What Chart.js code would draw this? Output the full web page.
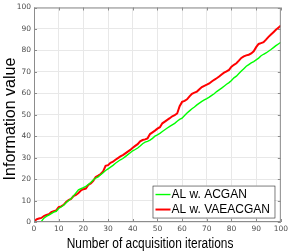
<!DOCTYPE html>
<html>
<head>
<meta charset="utf-8">
<script src="https://cdn.jsdelivr.net/npm/chart.js@4.4.1/dist/chart.umd.min.js"></script>
<style>
  html, body { margin: 0; padding: 0; background: #fff; }
  #wrap { width: 291px; height: 252px; }
</style>
</head>
<body>
<div id="wrap"><canvas id="chart" width="291" height="252"></canvas></div>
<script>
// iterations 0..100
const iterations = Array.from({ length: 101 }, (_, i) => i);

const acgan = [
  0, 0, 0, 0.3, 1.8, 2.6, 3.2, 3.9, 4.6, 5.0,
  6.3, 7.0, 7.8, 9.0, 10.0, 10.8, 12.2, 13.6, 15.0, 15.5,
  16.0, 16.6, 17.5, 18.4, 19.6, 20.5, 21.0, 22.0, 23.0, 24.0,
  24.8, 25.6, 26.4, 27.4, 28.2, 29.0, 29.6, 30.5, 31.4, 32.3,
  33.2, 33.8, 34.5, 35.4, 36.5, 37.2, 37.6, 38.2, 39.0, 40.0,
  40.6, 41.3, 42.2, 43.0, 43.8, 44.6, 45.3, 46.0, 47.0, 47.8,
  48.4, 49.6, 50.8, 51.8, 52.8, 53.6, 54.6, 55.4, 56.2, 56.9,
  57.5, 58.2, 59.0, 59.8, 60.8, 61.6, 62.4, 63.3, 64.2, 65.0,
  66.0, 67.2, 68.0, 69.2, 70.4, 71.5, 72.6, 73.4, 74.2, 74.8,
  75.6, 76.4, 77.5, 78.2, 78.8, 79.6, 80.4, 81.3, 82.2, 83.0,
  83.8
];

const vaeacgan = [
  0, 1.2, 1.6, 1.9, 2.8, 3.3, 3.6, 4.6, 5.0, 5.4,
  6.9, 7.3, 8.0, 9.3, 10.2, 10.8, 12.1, 12.6, 13.5, 14.7,
  15.3, 15.6, 17.3, 18.0, 19.2, 21.0, 21.6, 22.4, 23.6, 26.2,
  26.5, 27.6, 28.1, 29.0, 29.8, 30.6, 31.2, 32.0, 32.8, 33.6,
  34.6, 35.5, 36.3, 37.6, 38.2, 38.5, 39.0, 41.0, 41.8, 42.6,
  43.5, 44.2, 46.0, 46.8, 47.6, 48.4, 49.3, 49.8, 50.6, 54.0,
  56.0, 56.5, 57.2, 58.6, 59.8, 60.3, 60.8, 61.9, 62.9, 63.5,
  64.0, 64.6, 65.5, 66.3, 67.0, 67.8, 68.8, 69.6, 70.2, 70.9,
  72.4, 73.3, 74.0, 75.2, 76.5, 77.2, 77.7, 78.0, 78.6, 79.6,
  81.5, 83.0, 83.4, 83.8, 85.0, 86.3, 87.4, 88.5, 89.6, 90.6,
  91.6
];

const seriesLabels = ['AL w. ACGAN', 'AL w. VAEACGAN'];
const seriesColors = ['#00ff00', '#ff0000'];
const xTicks = [0, 10, 20, 30, 40, 50, 60, 70, 80, 90, 100];
const yTicks = [0, 10, 20, 30, 40, 50, 60, 70, 80, 90, 100];
const xTitle = 'Number of acquisition iterations';
const yTitle = 'Information value';

const toPoints = (ys) => ys.map((y, i) => ({ x: iterations[i], y }));

// matlab-ish box, inward ticks, axis titles and legend inside the axes
const matlabBox = {
  id: 'matlabBox',
  afterDraw(chart) {
    const { ctx, chartArea: a, scales } = chart;
    ctx.save();
    ctx.strokeStyle = '#8c8c8c';
    ctx.lineWidth = 1;
    ctx.strokeRect(a.left + 0.5, a.top + 0.5, a.right - a.left - 1, a.bottom - a.top - 1);
    ctx.beginPath();
    xTicks.forEach(v => {
      const px = Math.round(scales.x.getPixelForValue(v)) + 0.5;
      ctx.moveTo(px, a.bottom); ctx.lineTo(px, a.bottom - 3);
      ctx.moveTo(px, a.top); ctx.lineTo(px, a.top + 3);
    });
    yTicks.forEach(v => {
      const py = Math.round(scales.y.getPixelForValue(v)) + 0.5;
      ctx.moveTo(a.left, py); ctx.lineTo(a.left + 3, py);
      ctx.moveTo(a.right, py); ctx.lineTo(a.right - 3, py);
    });
    ctx.stroke();

    // axis titles
    ctx.fillStyle = '#000';
    ctx.textAlign = 'center';
    ctx.textBaseline = 'alphabetic';
    ctx.save();
    ctx.translate(a.left + (a.right - a.left) * 0.47, 248);
    ctx.scale(0.85, 1);
    ctx.font = '14px "Liberation Sans", Arial, sans-serif';
    ctx.fillText(xTitle, 0, 0);
    ctx.restore();
    ctx.save();
    ctx.translate(15, a.top + (a.bottom - a.top) * 0.52);
    ctx.rotate(-Math.PI / 2);
    ctx.font = '16px "Liberation Sans", Arial, sans-serif';
    ctx.fillText(yTitle, 0, 0);
    ctx.restore();

    // legend
    const lx = a.left + (a.right - a.left) * 0.48;
    const ly = a.top + (a.bottom - a.top) * 0.83;
    const lw = 122, lh = 32;
    ctx.textAlign = 'left';
    ctx.fillStyle = '#fff';
    ctx.fillRect(lx, ly, lw, lh);
    ctx.strokeStyle = '#262626';
    ctx.lineWidth = 0.6;
    ctx.strokeRect(lx + 0.5, ly + 0.5, lw, lh);
    ctx.font = '12px "Liberation Sans", Arial, sans-serif';
    ctx.textBaseline = 'middle';
    ctx.fillStyle = '#000';
    chart.data.datasets.forEach((ds, i) => {
      const ry = ly + 9 + i * 15;
      ctx.strokeStyle = ds.borderColor;
      ctx.lineWidth = ds.borderWidth;
      ctx.beginPath();
      ctx.moveTo(lx + 3, ry); ctx.lineTo(lx + 18, ry);
      ctx.stroke();
      ctx.fillText(ds.label, lx + 19, ry + 0.5);
    });
    ctx.restore();
  }
};

new Chart(document.getElementById('chart'), {
  type: 'line',
  data: {
    datasets: [
      { label: seriesLabels[0], data: toPoints(acgan), borderColor: seriesColors[0], borderWidth: 1.4, pointRadius: 0, tension: 0, fill: false },
      { label: seriesLabels[1], data: toPoints(vaeacgan), borderColor: seriesColors[1], borderWidth: 2, pointRadius: 0, tension: 0, fill: false }
    ]
  },
  options: {
    responsive: false,
    animation: false,
    layout: { padding: { top: 5, right: 6, left: 0, bottom: 0 } },
    plugins: { legend: { display: false }, tooltip: { enabled: false } },
    scales: {
      x: {
        type: 'linear',
        min: 0, max: 100,
        afterBuildTicks: (s) => { s.ticks = xTicks.map(v => ({ value: v })); },
        afterFit: (s) => { s.height = 30; },
        grid: { color: '#e8e8e8', drawTicks: false },
        border: { display: false },
        ticks: { color: '#4d4d4d', font: { size: 7.5, family: 'DejaVu Sans' }, padding: 3, maxRotation: 0 }
      },
      y: {
        min: 0, max: 100,
        afterBuildTicks: (s) => { s.ticks = yTicks.map(v => ({ value: v })); },
        afterFit: (s) => { s.width = 34; },
        grid: { color: '#e8e8e8', drawTicks: false },
        border: { display: false },
        ticks: { color: '#4d4d4d', font: { size: 7.5, family: 'DejaVu Sans' }, padding: 3 }
      }
    }
  },
  plugins: [matlabBox]
});
</script>
</body>
</html>
